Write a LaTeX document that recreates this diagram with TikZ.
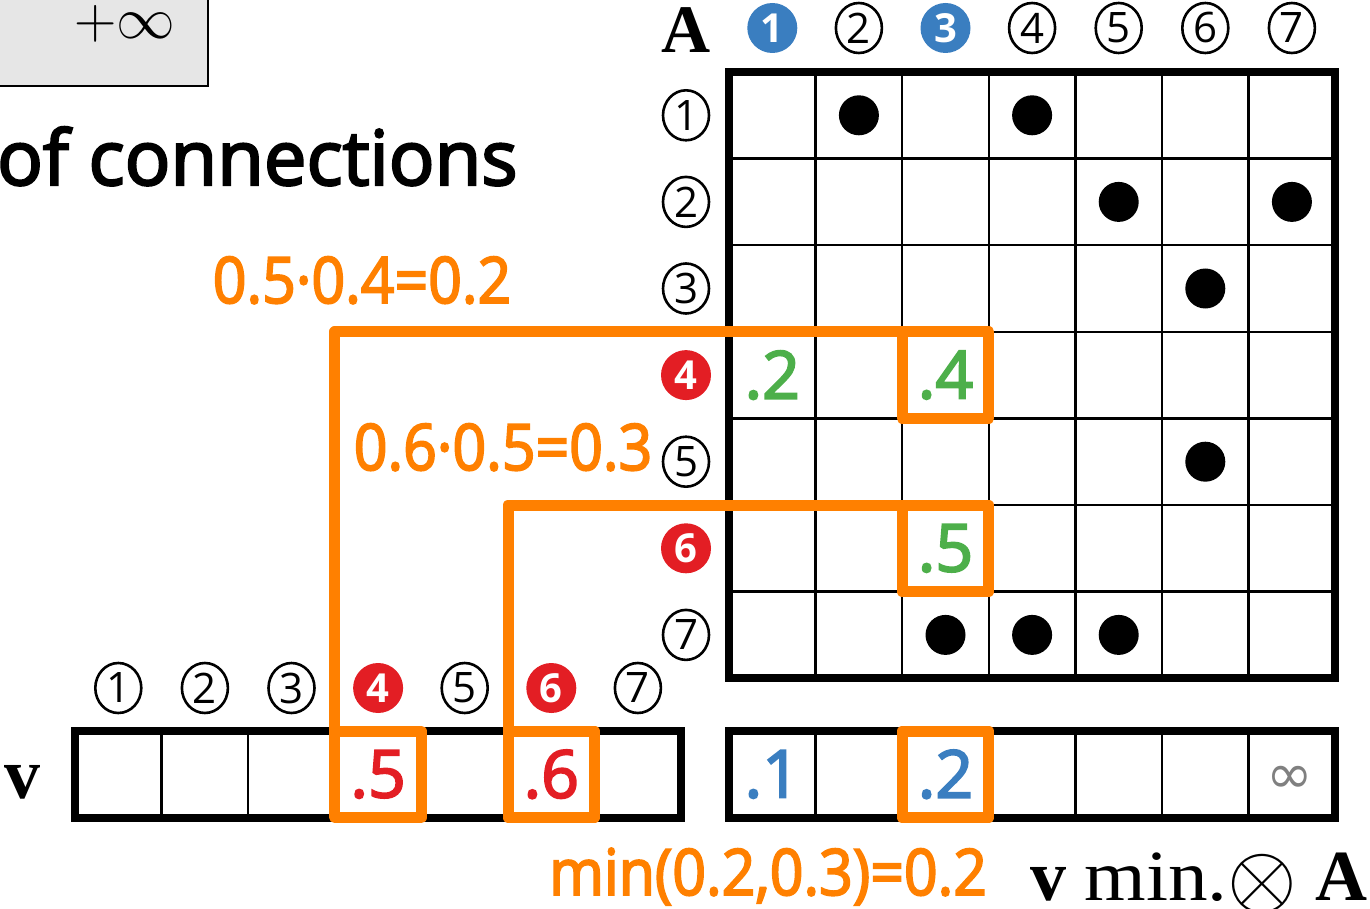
\documentclass[tikz,border=0pt]{standalone}
\usepackage{fontspec}
\setmainfont{Open Sans}
\newfontfamily\osemi{Open Sans}[FakeBold=3]
\newfontfamily\serifb{Liberation Serif}
\newfontfamily\djv{DejaVu Sans}
\usetikzlibrary{shapes.geometric}
\definecolor{myorange}{HTML}{FF8000}
\definecolor{myblue}{HTML}{3A7EC0}
\definecolor{myred}{HTML}{E31E24}
\definecolor{mygreen}{HTML}{4DAF4A}
\definecolor{boxgray}{HTML}{E6E6E6}
\begin{document}
\begin{tikzpicture}[x=0.5pt,y=-0.5pt,
  circo/.style={ellipse, draw, line width=1.3pt, minimum width=23pt, minimum height=25pt, inner sep=0pt, font=\fontsize{21}{21}\selectfont},
  circb/.style={circle, fill=myblue, minimum size=25pt, inner sep=0pt, text=white, font=\fontsize{20}{20}\selectfont\bfseries},
  circr/.style={circb, fill=myred},
  cellnum/.style={font=\osemi\fontsize{33}{33}\selectfont, inner sep=0pt},
  obox/.style={draw=myorange, line width=5.5pt, line join=round, minimum width=43.3pt, minimum height=43.3pt, inner sep=0pt, outer sep=0pt},
  oline/.style={draw=myorange, line width=5.5pt, line join=round},
  otext/.style={font=\osemi\fontsize{32}{32}\selectfont, text=myorange, inner sep=0pt},
  thinline/.style={line width=1.2pt},
  thickline/.style={line width=4pt},
  dot/.style={fill=black}
]
\useasboundingbox (0,0) rectangle (1370,909);

% top-left box
\node[draw, line width=1pt, fill=boxgray, minimum width=120pt, minimum height=60pt, anchor=south east, inner sep=0pt] (topbox) at (209,87) {};
\node[font=\fontsize{24}{24}\selectfont, inner sep=0pt] (inf) at (125,24) {\scalebox{1.18}{$+\infty$}};

% title fragment
\node[font=\osemi\fontsize{38}{38}\selectfont, anchor=base east, inner sep=0pt] (title) at (518,185) {of connections};

% matrix grid
\foreach \i in {1,...,6} {
  \draw[thinline] ({729+86.6*\i},72) -- ({729+86.6*\i},678.2);
  \draw[thinline] (729,{72+86.6*\i}) -- (1335.2,{72+86.6*\i});
}
\draw[thickline] (729,72) rectangle (1335.2,678.2);

% v vector
\foreach \i in {1,...,6}
  \draw[thinline] ({75+86.6*\i},731) -- ({75+86.6*\i},817.6);
\draw[thickline] (75,731) rectangle (681.2,817.6);

% result vector
\foreach \i in {1,...,6}
  \draw[thinline] ({729+86.6*\i},731) -- ({729+86.6*\i},817.6);
\draw[thickline] (729,731) rectangle (1335.2,817.6);

% headers
\node[font=\serifb\bfseries\fontsize{34}{34}\selectfont, anchor=base, inner sep=0pt] (Alab) at (686,53) {A};
\foreach \i/\s in {1/circb,2/circo,3/circb,4/circo,5/circo,6/circo,7/circo}
  \node[\s] (ch\i) at ({729+86.6*(\i-0.5)},28) {\i};
\foreach \i/\s in {1/circo,2/circo,3/circo,4/circr,5/circo,6/circr,7/circo}
  \node[\s] (rh\i) at (686,{72+86.6*(\i-0.5)}) {\i};
\foreach \i/\s in {1/circo,2/circo,3/circo,4/circr,5/circo,6/circr,7/circo}
  \node[\s] (vh\i) at ({75+86.6*(\i-0.5)},688) {\i};
\node[font=\serifb\bfseries\fontsize{36}{36}\selectfont, anchor=base, inner sep=0pt] (vlab) at (22,798) {v};

% dots
\foreach \c/\r in {2/1,4/1,5/2,7/2,6/3,6/5,3/7,4/7,5/7}
  \fill[dot] ({729+86.6*(\c-0.5)},{72+86.6*(\r-0.5)}) circle (20);

% matrix values
\node[cellnum, text=mygreen] (m41) at (772.3,375.1) {.2};
\node[cellnum, text=mygreen] (m43) at (945.5,375.1) {.4};
\node[cellnum, text=mygreen] (m63) at (945.5,548.3) {.5};

% v values
\node[cellnum, text=myred] (v4) at (378.1,774.3) {.5};
\node[cellnum, text=myred] (v6) at (551.3,774.3) {.6};

% result values
\node[cellnum, text=myblue] (r1) at (772.3,774.3) {.1};
\node[cellnum, text=myblue] (r3) at (945.5,774.3) {.2};
\node[font=\djv\fontsize{28}{28}\selectfont, text=black!50, inner sep=0pt] (r7) at (1290,780) {∞};

% orange boxes
\node[obox] (om43) at (m43) {};
\node[obox] (om63) at (m63) {};
\node[obox] (ov4) at (v4) {};
\node[obox] (ov6) at (v6) {};
\node[obox] (or3) at (r3) {};

% orange connectors
\draw[oline] (ov4.north west) |- (om43.north west);
\draw[oline] (ov6.north west) |- (om63.north west);

% orange labels
\node[otext, anchor=base] (t1) at (362,303) {\scalebox{0.92}[1]{0.5·0.4=0.2}};
\node[otext, anchor=base] (t2) at (503,470) {\scalebox{0.92}[1]{0.6·0.5=0.3}};
\node[otext, anchor=base] (t3) at (768,895) {\scalebox{0.92}[1]{min(0.2,0.3)=0.2}};

% operation label
\node[font=\serifb\fontsize{36}{36}\selectfont, anchor=base west, inner sep=0pt] (op) at (1030,900) {\textbf{v} \scalebox{1.1}[1]{min.}{\fontsize{24}{24}\selectfont\raisebox{-3pt}{\scalebox{1.8}{$\otimes$}}} \textbf{A}};
\end{tikzpicture}
\end{document}
